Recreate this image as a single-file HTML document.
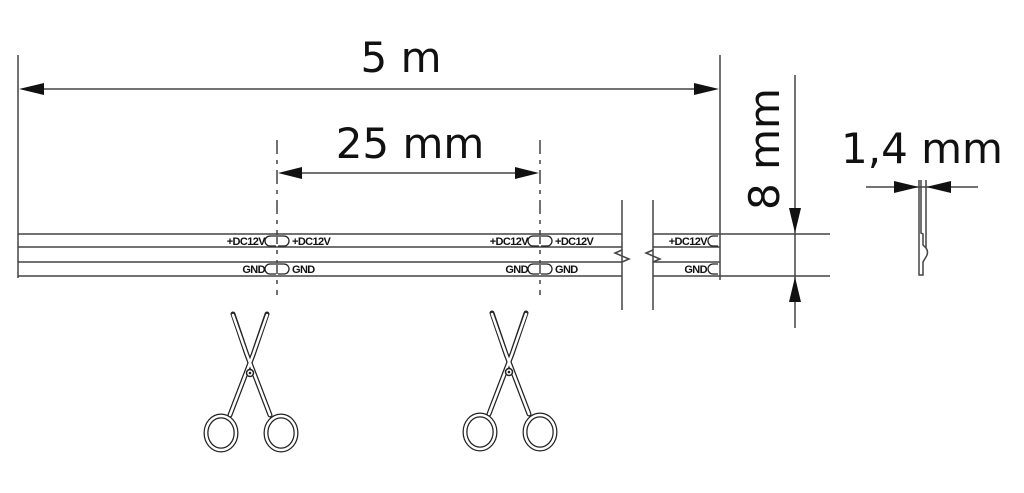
<!DOCTYPE html>
<html><head><meta charset="utf-8"><style>
body{margin:0;background:#fff;width:1024px;height:493px;overflow:hidden}
svg{display:block}
text{font-family:"DejaVu Sans","Liberation Sans",sans-serif;fill:#111}
.l{stroke:#444;stroke-width:1.5;fill:none}
.s{font-family:"Liberation Sans",sans-serif;font-size:11px;font-weight:bold;letter-spacing:-0.6px}
</style></head><body>
<svg width="1024" height="493" viewBox="0 0 1024 493">
<defs>
<g id="sc">
<g stroke="#222" stroke-width="5" fill="none" stroke-linecap="round">
<path d="M-17,-59 L-3,-18 L20,42"/>
<path d="M17,-59 L3,-18 L-20,42"/>
<ellipse cx="-29" cy="60" rx="15" ry="17"/>
<ellipse cx="31" cy="60" rx="15" ry="17"/>
</g>
<g stroke="#fff" stroke-width="2.5" fill="none" stroke-linecap="round">
<path d="M-17,-58 L-3,-18 L20,42"/>
<path d="M17,-58 L3,-18 L-20,42"/>
<ellipse cx="-29" cy="60" rx="15" ry="17"/>
<ellipse cx="31" cy="60" rx="15" ry="17"/>
</g>
<circle cx="0" cy="0" r="3.5" fill="#fff" stroke="#222" stroke-width="1.5"/>
<circle cx="0" cy="0" r="1.3" fill="#222"/>
</g>
</defs>
<!-- 5 m -->
<line class="l" x1="18" y1="55" x2="18" y2="278"/>
<line class="l" x1="720" y1="55" x2="720" y2="280"/>
<line class="l" x1="40" y1="89" x2="698" y2="89"/>
<polygon points="19,89 44,83 44,95" fill="#111"/>
<polygon points="719,89 694,83 694,95" fill="#111"/>
<text x="401" y="72" font-size="42" text-anchor="middle">5 m</text>
<!-- 25 mm -->
<line class="l" x1="277" y1="140" x2="277" y2="295" stroke-dasharray="14,6,4,6"/>
<line class="l" x1="540" y1="140" x2="540" y2="295" stroke-dasharray="14,6,4,6"/>
<line class="l" x1="300" y1="173" x2="518" y2="173"/>
<polygon points="278,173 302,167 302,179" fill="#111"/>
<polygon points="539,173 515,167 515,179" fill="#111"/>
<text x="410" y="158" font-size="42" text-anchor="middle">25 mm</text>
<!-- strip -->
<g class="l">
<path d="M18,234 H622 M18,247 H622 M18,262 H622 M18,276 H622"/>
<path d="M653,234 H720 M653,247 H720 M653,262 H720 M653,276 H720"/>
<path d="M720,234 H830 M720,276 H830"/>
<path d="M622,200 V310 M653,200 V310"/>
</g>
<g class="l" stroke-width="1.3">
<path d="M622,250 L615,253 L629,259 L622,262"/>
<path d="M653,250 L646,253 L660,259 L653,262"/>
</g>
<!-- pads -->
<g stroke="#222" stroke-width="1.3" fill="none">
<path d="M276,236 h-6 a5,5 0 0 0 0,10 h6 M278,236 h6 a5,5 0 0 1 0,10 h-6"/>
<path d="M276,264 h-6 a5,5 0 0 0 0,10 h6 M278,264 h6 a5,5 0 0 1 0,10 h-6"/>
<path d="M539,236 h-6 a5,5 0 0 0 0,10 h6 M541,236 h6 a5,5 0 0 1 0,10 h-6"/>
<path d="M539,264 h-6 a5,5 0 0 0 0,10 h6 M541,264 h6 a5,5 0 0 1 0,10 h-6"/>
<path d="M718,236 h-5 a5,5 0 0 0 0,10 h5 M718,264 h-5 a5,5 0 0 0 0,10 h5"/>
</g>
<text class="s" x="265" y="245" text-anchor="end">+DC12V</text>
<text class="s" x="292" y="245">+DC12V</text>
<text class="s" x="265" y="273" text-anchor="end">GND</text>
<text class="s" x="292" y="273">GND</text>
<text class="s" x="528" y="245" text-anchor="end">+DC12V</text>
<text class="s" x="555" y="245">+DC12V</text>
<text class="s" x="528" y="273" text-anchor="end">GND</text>
<text class="s" x="555" y="273">GND</text>
<text class="s" x="707" y="245" text-anchor="end">+DC12V</text>
<text class="s" x="707" y="273" text-anchor="end">GND</text>
<!-- 8 mm -->
<line class="l" x1="795" y1="75" x2="795" y2="328"/>
<polygon points="795,233 789,208 801,208" fill="#111"/>
<polygon points="795,277 789,302 801,302" fill="#111"/>
<text transform="translate(779,149) rotate(-90)" font-size="42" text-anchor="middle">8 mm</text>
<!-- 1,4 mm -->
<text x="922" y="163" font-size="42" text-anchor="middle">1,4 mm</text>
<line class="l" x1="866" y1="187" x2="978" y2="187"/>
<polygon points="919,187 894,181 894,193" fill="#111"/>
<polygon points="926,187 951,181 951,193" fill="#111"/>
<path class="l" stroke-width="1.2" d="M919,180 V275 H923 V262 L926,257 Q929,252 926,248 L923,245 V234 L921,233 V180 M926,180 V248"/>
<!-- scissors -->
<use href="#sc" transform="translate(250,373)"/>
<use href="#sc" transform="translate(509,372)"/>
</svg>
</body></html>
